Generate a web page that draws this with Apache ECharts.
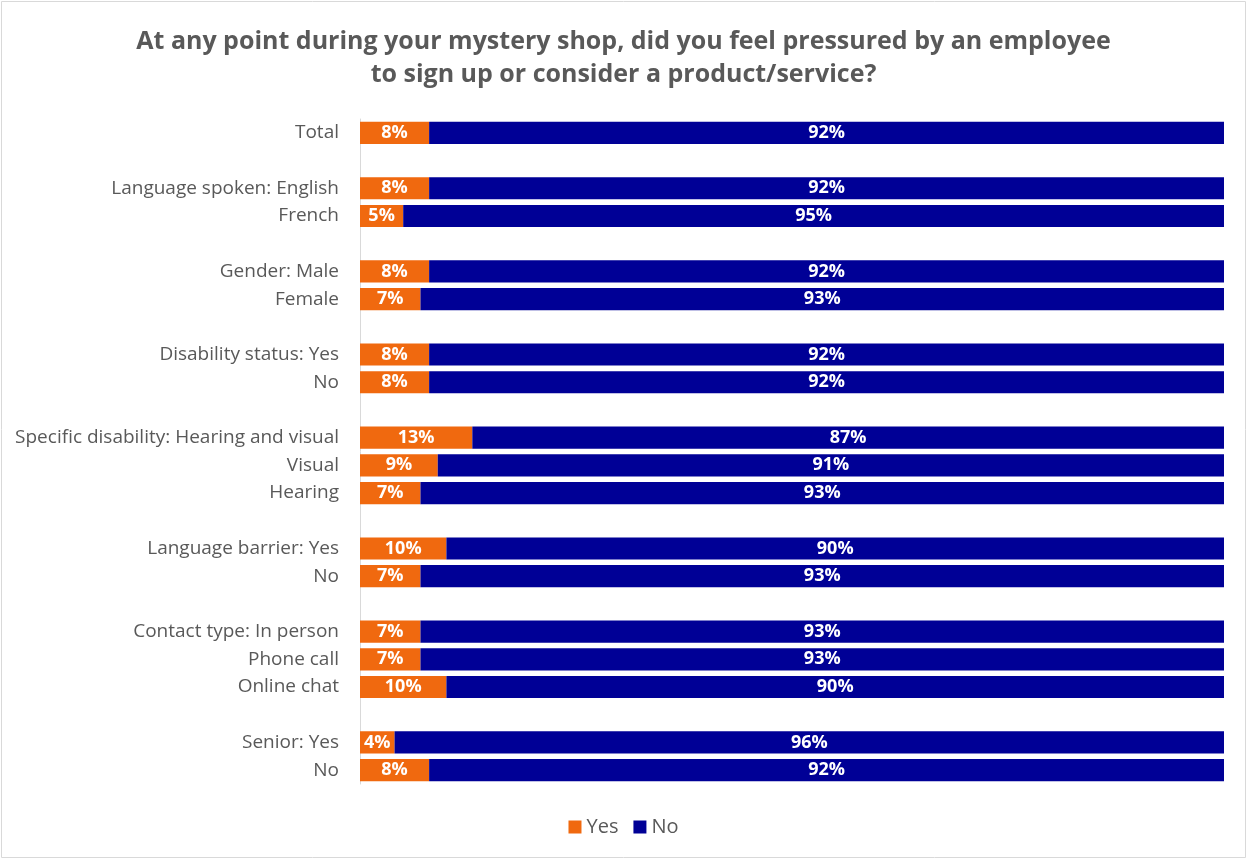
<!DOCTYPE html>
<html>
<head>
<meta charset="utf-8">
<script src="https://cdn.jsdelivr.net/npm/echarts@6/dist/echarts.min.js"></script>
<style>
html,body{margin:0;padding:0;background:#fff;}
#c{width:1247px;height:859px;}
</style>
</head>
<body>
<div id="c"></div>
<script>
const categories = [
  'Total', ' ',
  'Language spoken: English', 'French', '  ',
  'Gender: Male', 'Female', '   ',
  'Disability status: Yes', 'No', '    ',
  'Specific disability: Hearing and visual', 'Visual', 'Hearing', '     ',
  'Language barrier: Yes', 'No ', '      ',
  'Contact type: In person', 'Phone call', 'Online chat', '       ',
  'Senior: Yes', 'No  '
];
const yesValues = [8, null, 8, 5, null, 8, 7, null, 8, 8, null, 13, 9, 7, null, 10, 7, null, 7, 7, 10, null, 4, 8];
const noValues = [92, null, 92, 95, null, 92, 93, null, 92, 92, null, 87, 91, 93, null, 90, 93, null, 93, 93, 90, null, 96, 92];
const seriesNames = ['Yes', 'No'];
const titleLines = ['At any point during your mystery shop, did you feel pressured by an employee', 'to sign up or consider a product/service?'];

const chart = echarts.init(document.getElementById('c'), null, {renderer: 'canvas'});
const font = '"Open Sans", "Noto Sans", sans-serif';
const lbl = {show: true, position: 'inside', color: '#fff', fontWeight: 'bold', fontSize: 18, fontFamily: font, formatter: p => p.value == null ? '' : p.value + '%'};
chart.setOption({
  animation: false,
  title: {
    text: titleLines.join('\n'),
    left: 'center', top: 20,
    textStyle: {fontFamily: font, fontSize: 25, fontWeight: 'bold', color: '#595959', lineHeight: 33}
  },
  graphic: [{type: 'rect', shape: {x: 1.5, y: 1.5, width: 1244, height: 856}, style: {fill: 'none', stroke: '#d9d9d9', lineWidth: 1}, silent: true}],
  legend: {
    bottom: 17, left: 'center',
    itemWidth: 13, itemHeight: 13, itemGap: 15, icon: 'rect',
    textStyle: {fontFamily: font, fontSize: 20, color: '#595959'},
    data: seriesNames
  },
  grid: {left: 360, right: 23, top: 119, bottom: 75, containLabel: false},
  xAxis: {type: 'value', min: 0, max: 100, show: false},
  yAxis: {
    type: 'category', data: categories, inverse: true,
    axisLine: {show: true, lineStyle: {color: '#d9d9d9'}},
    axisTick: {show: false},
    axisLabel: {color: '#595959', fontSize: 19, fontFamily: font, margin: 21, formatter: v => v.trim()}
  },
  series: [
    {name: seriesNames[0], type: 'bar', stack: 's', data: yesValues, barCategoryGap: '20%', itemStyle: {color: '#F0690F'}, label: lbl},
    {name: seriesNames[1], type: 'bar', stack: 's', data: noValues, barCategoryGap: '20%', itemStyle: {color: '#000096'}, label: lbl}
  ]
});
</script>
</body>
</html>
